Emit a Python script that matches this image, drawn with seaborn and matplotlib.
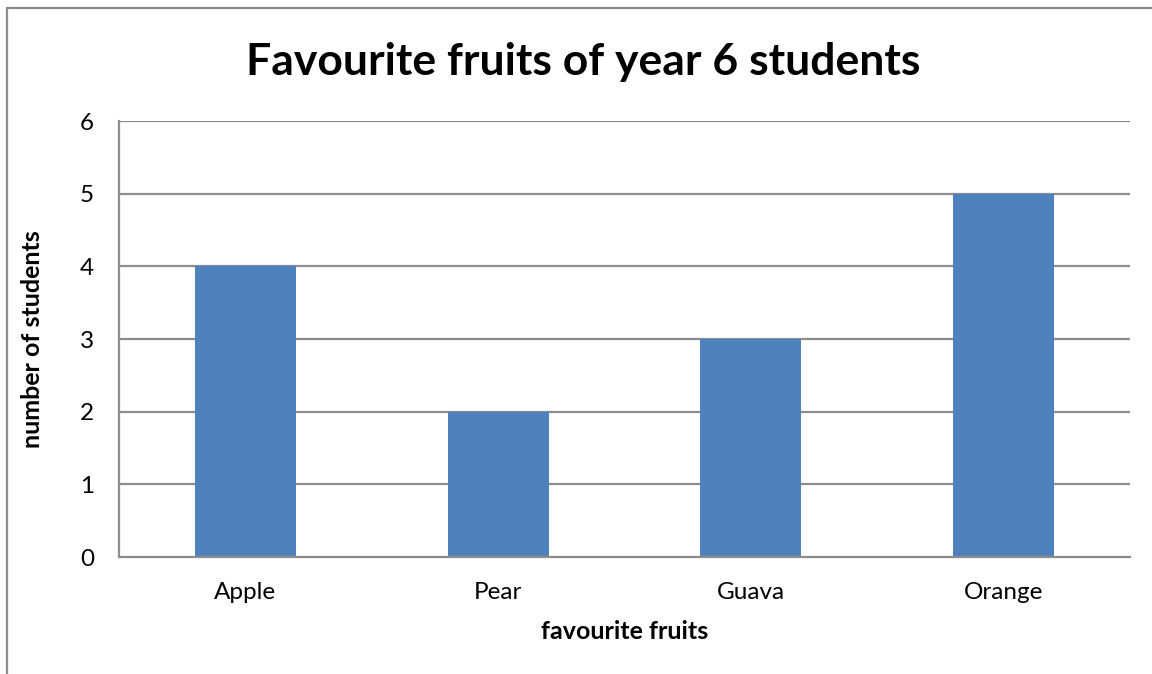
import matplotlib
matplotlib.use("Agg")
import matplotlib.pyplot as plt
import seaborn as sns
import pandas as pd
from matplotlib.lines import Line2D

fruits = ["Apple", "Pear", "Guava", "Orange"]
students = [4, 2, 3, 5]
y_ticks = [0, 1, 2, 3, 4, 5, 6]

sns.set_style("white")
plt.rcParams['font.family'] = ['Lato', 'DejaVu Sans']
plt.rcParams['text.color'] = 'black'
plt.rcParams['axes.labelcolor'] = 'black'
plt.rcParams['xtick.color'] = 'black'
plt.rcParams['ytick.color'] = 'black'

df = pd.DataFrame({"fruit": fruits, "students": students})

fig = plt.figure(figsize=(11.52, 6.74), dpi=100)
ax = fig.add_axes([119/1152, 1-557/674, (1130-119)/1152, (557-121)/674])

grid_col = "#8c8c8c"
for t in y_ticks[1:]:
    ax.axhline(t, color=grid_col, lw=1.6, zorder=0)

sns.barplot(data=df, x="fruit", y="students", color="#4F81BD", width=0.4,
            saturation=1, ax=ax, zorder=2, edgecolor="none", linewidth=0)

ax.set_ylim(0, 6)
ax.set_xlim(-0.5, 3.5)
ax.set_yticks(y_ticks)
for s in ["top", "right"]:
    ax.spines[s].set_visible(False)
for s in ["left", "bottom"]:
    ax.spines[s].set_color(grid_col)
    ax.spines[s].set_linewidth(1.6)
ax.tick_params(axis="y", length=8, width=1.6, color=grid_col, labelcolor="black",
               labelsize=17.5, pad=10)
ax.tick_params(axis="x", length=0, labelsize=17.5, labelcolor="black", pad=18)

ax.set_xlabel("favourite fruits", fontsize=18, fontweight="bold", labelpad=12)
ax.set_ylabel("number of students", fontsize=18, fontweight="bold", labelpad=26)
fig.text(583/1152, 1-62/674, "Favourite fruits of year 6 students", ha="center",
         va="center", fontsize=32, fontweight="bold", color="black")

# outer chart frame (left and top edges visible)
fig.add_artist(Line2D([7/1152, 7/1152], [0, 1-8/674], transform=fig.transFigure,
                      color=grid_col, lw=1.6))
fig.add_artist(Line2D([7/1152, 1], [1-8/674, 1-8/674], transform=fig.transFigure,
                      color=grid_col, lw=1.6))

fig.savefig("out.png", dpi=100)
